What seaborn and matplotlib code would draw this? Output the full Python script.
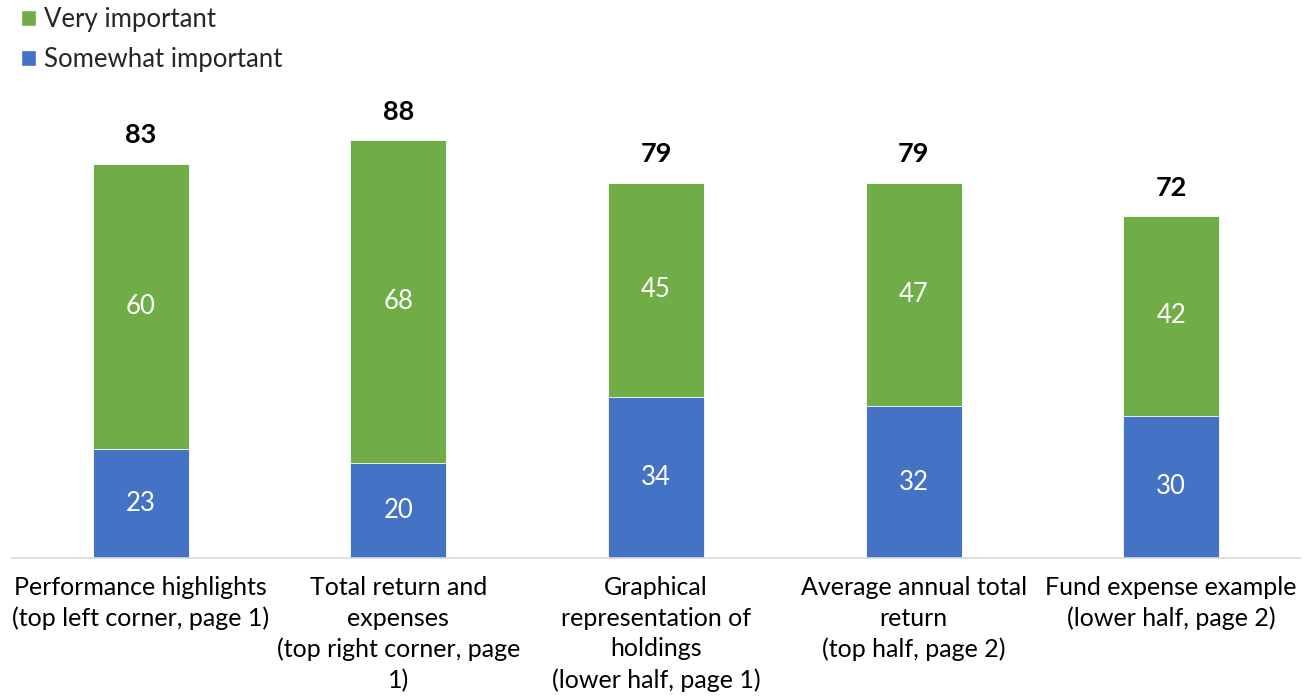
import matplotlib
matplotlib.use("Agg")
import matplotlib.pyplot as plt
import seaborn as sns
import pandas as pd
from matplotlib.patches import Patch

categories = [
    "Performance highlights\n(top left corner, page 1)",
    "Total return and\nexpenses\n(top right corner, page\n1)",
    "Graphical\nrepresentation of\nholdings\n(lower half, page 1)",
    "Average annual total\nreturn\n(top half, page 2)",
    "Fund expense example\n(lower half, page 2)",
]
somewhat = [23, 20, 34, 32, 30]
very = [60, 68, 45, 47, 42]
totals = [s + v for s, v in zip(somewhat, very)]

GREEN = "#70AD47"
BLUE = "#4472C4"

sns.set_theme(style="white")
plt.rcParams['font.family'] = ['Lato', 'DejaVu Sans']

df = pd.DataFrame({"cat": categories, "somewhat": somewhat, "very": very, "total": totals})

fig = plt.figure(figsize=(13.08, 6.96), dpi=100)
ax = fig.add_axes([12/1308, 138/696, 1288/1308, 475/696])

sns.barplot(data=df, x="cat", y="total", color=GREEN, saturation=1, width=0.373, ax=ax,
            edgecolor="white", linewidth=0.6)
sns.barplot(data=df, x="cat", y="somewhat", color=BLUE, saturation=1, width=0.373, ax=ax,
            edgecolor="white", linewidth=0.6)

for i, (s, v, t) in enumerate(zip(somewhat, very, totals)):
    ax.text(i, s / 2, str(s), ha="center", va="center", color="white", fontsize=18.5)
    ax.text(i, s + v / 2, str(v), ha="center", va="center", color="white", fontsize=18.5)
    ax.text(i, t + 6.0, str(t), ha="center", va="center", color="black", fontsize=19.5,
            fontweight="bold")

ax.set_ylim(0, 100)
ax.set_xlim(-0.5, 4.5)
ax.set_xlabel("")
ax.set_ylabel("")
ax.set_yticks([])
for sp in ["top", "left", "right"]:
    ax.spines[sp].set_visible(False)
ax.spines["bottom"].set_color("#D9D9D9")
ax.spines["bottom"].set_linewidth(1.2)
ax.tick_params(axis="x", length=0, pad=13, labelsize=18, colors="black")
for lbl in ax.get_xticklabels():
    lbl.set_linespacing(1.4)

handles = [Patch(facecolor=GREEN, label="Very important"),
           Patch(facecolor=BLUE, label="Somewhat important")]
fig.legend(handles=handles, loc="upper left", bbox_to_anchor=(0.004, 1.012), frameon=False,
           fontsize=18.5, handlelength=0.6, handleheight=0.6, handletextpad=0.3,
           labelspacing=0.58, borderaxespad=0.2)

fig.savefig("out.png", dpi=100)
